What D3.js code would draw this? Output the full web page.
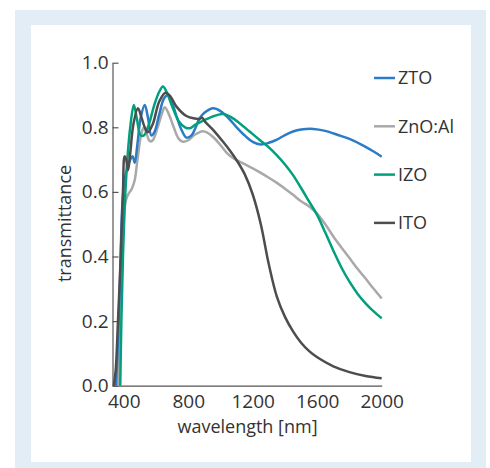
<!DOCTYPE html>
<html>
<head>
<meta charset="utf-8">
<script src="https://cdn.jsdelivr.net/npm/d3@7"></script>
<style>
    body { margin: 0; background: #fff; }
    svg { display: block; font-family: "Open Sans", sans-serif; }
</style>
</head>
<body>
<svg id="chart" width="490" height="468"></svg>
<script>
// Series data: wavelength [nm] and transmittance
const ztoWl = [352, 365, 378, 390, 405, 420, 440, 455, 468, 485, 505, 530, 550, 571, 590, 620, 650, 675, 700, 730, 760, 789, 820, 871, 900, 955, 1000, 1050, 1100, 1150, 1200, 1250, 1300, 1350, 1400, 1450, 1500, 1575, 1650, 1730, 1800, 1880, 1950, 2000];
const ztoT = [0, 0.15, 0.35, 0.55, 0.64, 0.67, 0.70, 0.71, 0.69, 0.75, 0.83, 0.869, 0.83, 0.775, 0.785, 0.84, 0.89, 0.90, 0.875, 0.83, 0.79, 0.768, 0.775, 0.828, 0.845, 0.859, 0.85, 0.828, 0.80, 0.775, 0.755, 0.747, 0.752, 0.762, 0.776, 0.787, 0.793, 0.795, 0.789, 0.776, 0.764, 0.745, 0.725, 0.709];

const aznoWl = [366, 378, 390, 405, 420, 437, 450, 468, 485, 509, 525, 545, 561, 580, 610, 635, 654, 680, 710, 740, 768, 800, 840, 890, 920, 954, 1000, 1040, 1080, 1120, 1150, 1200, 1250, 1300, 1350, 1400, 1450, 1500, 1550, 1600, 1650, 1700, 1750, 1800, 1850, 1900, 1950, 2000];
const aznoT = [0, 0.2, 0.4, 0.55, 0.585, 0.60, 0.61, 0.637, 0.70, 0.78, 0.80, 0.775, 0.757, 0.76, 0.80, 0.84, 0.862, 0.84, 0.80, 0.765, 0.755, 0.76, 0.777, 0.788, 0.783, 0.77, 0.745, 0.72, 0.704, 0.693, 0.686, 0.673, 0.659, 0.644, 0.628, 0.61, 0.591, 0.571, 0.555, 0.532, 0.50, 0.462, 0.428, 0.395, 0.362, 0.332, 0.30, 0.27];

const izoWl = [378, 385, 395, 410, 425, 440, 462, 480, 505, 525, 550, 590, 620, 643, 665, 700, 740, 780, 810, 850, 913, 960, 1017, 1070, 1120, 1180, 1245, 1300, 1350, 1400, 1450, 1500, 1550, 1600, 1650, 1700, 1750, 1800, 1850, 1900, 1950, 2000];
const izoT = [0, 0.2, 0.4, 0.6, 0.72, 0.80, 0.869, 0.83, 0.775, 0.775, 0.80, 0.87, 0.91, 0.926, 0.91, 0.865, 0.82, 0.80, 0.797, 0.81, 0.825, 0.835, 0.841, 0.83, 0.812, 0.787, 0.76, 0.738, 0.713, 0.685, 0.652, 0.612, 0.57, 0.528, 0.474, 0.418, 0.366, 0.322, 0.285, 0.255, 0.23, 0.209];

const itoWl = [338, 350, 364, 381, 395, 405, 415, 427, 440, 460, 488, 510, 530, 550, 580, 620, 660, 690, 727, 789, 870, 885, 905, 954, 1016, 1058, 1100, 1150, 1200, 1250, 1300, 1350, 1400, 1450, 1500, 1550, 1600, 1700, 1800, 1900, 2000];
const itoT = [0, 0.05, 0.2, 0.4, 0.6, 0.71, 0.70, 0.668, 0.72, 0.81, 0.859, 0.83, 0.80, 0.785, 0.81, 0.88, 0.907, 0.895, 0.864, 0.835, 0.826, 0.83, 0.817, 0.792, 0.755, 0.728, 0.698, 0.655, 0.592, 0.50, 0.375, 0.275, 0.213, 0.168, 0.133, 0.107, 0.088, 0.06, 0.042, 0.03, 0.023];

const seriesNames = ['ZTO', 'ZnO:Al', 'IZO', 'ITO'];
const seriesColors = ['#2a7cc7', '#a9a9a9', '#00a07e', '#4d4d4f'];
const xTicks = [400, 800, 1200, 1600, 2000];
const yTicks = [0, 0.2, 0.4, 0.6, 0.8, 1.0];

const series = [
    { name: seriesNames[0], color: seriesColors[0], wl: ztoWl, t: ztoT },
    { name: seriesNames[1], color: seriesColors[1], wl: aznoWl, t: aznoT },
    { name: seriesNames[2], color: seriesColors[2], wl: izoWl, t: izoT },
    { name: seriesNames[3], color: seriesColors[3], wl: itoWl, t: itoT }
];

const svg = d3.select('#chart');

// Frame: light blue border with white panel
svg.append('rect').attr('x', 15).attr('y', 10).attr('width', 471).attr('height', 458).attr('fill', '#e2edf5');
svg.append('rect').attr('x', 31).attr('y', 25).attr('width', 440).attr('height', 437).attr('fill', '#fff');

const x = d3.scaleLinear().domain([330, 2000]).range([112.5, 381.7]);
const y = d3.scaleLinear().domain([0, 1]).range([385.7, 62.7]);

// Axes
const yAxis = svg.append('g').attr('transform', `translate(${x(330)},0)`)
    .call(d3.axisLeft(y).tickValues(yTicks).tickFormat(d3.format('.1f'))
        .tickSizeInner(-6).tickSizeOuter(0).tickPadding(4));
const xAxis = svg.append('g').attr('transform', `translate(0,${y(0)})`)
    .call(d3.axisBottom(x).tickValues(xTicks).tickFormat(d3.format('d'))
        .tickSizeInner(0).tickSizeOuter(0).tickPadding(9));

[xAxis, yAxis].forEach(g => {
    g.select('.domain').attr('stroke', '#555').attr('stroke-width', 1.2);
    g.selectAll('.tick line').attr('stroke', '#555').attr('stroke-width', 1.2);
    g.selectAll('.tick text').attr('fill', '#333').style('font-size', '19px').style('font-family', '"Open Sans", sans-serif');
});

// Axis titles
svg.append('text').attr('x', 247.5).attr('y', 433).attr('text-anchor', 'middle')
    .attr('fill', '#333').style('font-size', '18px').text('wavelength [nm]');
svg.append('text').attr('transform', 'translate(70.5,223.5) rotate(-90)').attr('text-anchor', 'middle')
    .attr('fill', '#333').style('font-size', '18px').text('transmittance');

// Curves
const line = d3.line().x(d => x(d[0])).y(d => y(d[1])).curve(d3.curveCatmullRom.alpha(0.5));
const drawOrder = [1, 0, 2, 3];
drawOrder.forEach(i => {
    const s = series[i];
    svg.append('path').datum(s.wl.map((w, j) => [w, s.t[j]]))
        .attr('fill', 'none').attr('stroke', s.color).attr('stroke-width', 2.5)
        .attr('stroke-linejoin', 'round').attr('d', line);
});

// Legend
series.forEach((s, i) => {
    const cy = 78 + i * 48.3;
    svg.append('line').attr('x1', 374).attr('x2', 395).attr('y1', cy).attr('y2', cy)
        .attr('stroke', s.color).attr('stroke-width', 2.5);
    svg.append('text').attr('x', 398).attr('y', cy).attr('dy', '0.35em')
        .attr('fill', '#333').style('font-size', '18px').text(s.name);
});
</script>
</body>
</html>
